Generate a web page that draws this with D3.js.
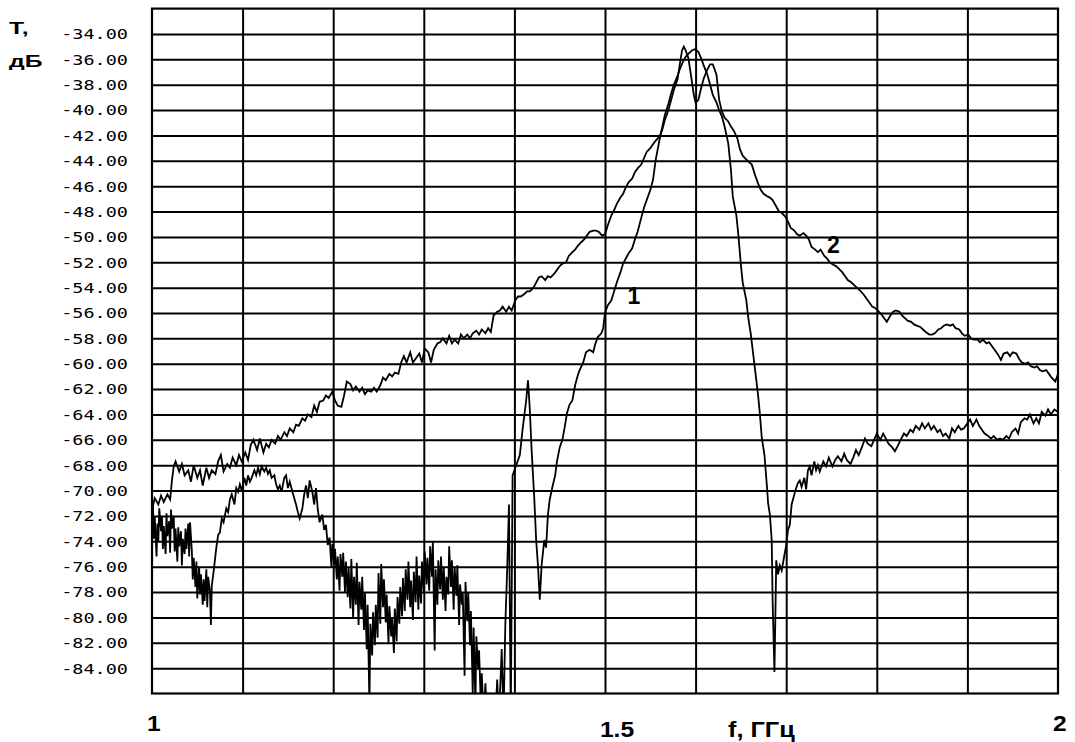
<!DOCTYPE html>
<html>
<head>
<meta charset="utf-8">
<script src="https://cdn.jsdelivr.net/npm/d3@7"></script>
<style>
  html, body { margin: 0; padding: 0; background: #fff; }
  svg { display: block; }
</style>
</head>
<body>
<svg id="chart" width="1075" height="742"></svg>
<script>
// Transmission T (dB) versus frequency f (GHz) for two filters.
// Each point is [frequency in GHz, T in dB].
const curve1 = [
[1.000,-74.5],[1.001,-71.0],[1.002,-73.8],[1.003,-72.0],[1.005,-75.2],[1.006,-72.6],[1.007,-74.0],[1.008,-71.4],[1.010,-73.2],[1.011,-72.0],
[1.012,-74.6],[1.013,-72.8],[1.015,-75.0],[1.016,-71.8],[1.017,-73.6],[1.019,-72.4],[1.020,-74.9],[1.021,-71.5],[1.022,-73.0],[1.024,-72.0],
[1.025,-74.8],[1.026,-73.0],[1.028,-75.6],[1.029,-72.9],[1.030,-74.4],[1.032,-73.2],[1.033,-75.9],[1.034,-73.8],[1.036,-75.0],[1.037,-73.0],
[1.038,-74.6],[1.040,-72.6],[1.041,-75.2],[1.042,-72.5],[1.044,-74.8],[1.045,-77.0],[1.046,-75.3],[1.048,-77.6],[1.049,-75.6],[1.050,-78.5],
[1.052,-76.0],[1.053,-78.2],[1.054,-76.6],[1.056,-79.0],[1.057,-77.0],[1.058,-78.7],[1.060,-76.2],[1.061,-79.2],[1.062,-76.8],[1.064,-78.0],
[1.065,-80.6],[1.066,-77.5],[1.068,-76.4],[1.071,-74.5],[1.073,-73.5],[1.075,-73.3],[1.077,-72.2],[1.079,-72.5],[1.082,-71.4],[1.084,-71.7],
[1.086,-70.7],[1.088,-70.3],[1.091,-71.1],[1.093,-69.8],[1.095,-70.1],[1.097,-69.5],[1.099,-70.0],[1.102,-69.0],[1.104,-69.6],[1.106,-68.8],
[1.108,-69.3],[1.110,-69.0],[1.113,-68.4],[1.115,-68.8],[1.117,-68.2],[1.119,-68.7],[1.121,-68.1],[1.124,-68.5],[1.126,-68.2],[1.128,-68.7],
[1.130,-68.4],[1.132,-69.0],[1.135,-68.8],[1.137,-69.5],[1.139,-69.9],[1.141,-69.6],[1.143,-70.1],[1.146,-69.0],[1.148,-68.8],[1.150,-69.8],
[1.152,-69.3],[1.155,-70.1],[1.157,-70.6],[1.159,-71.1],[1.161,-71.7],[1.163,-72.2],[1.166,-71.4],[1.168,-70.3],[1.170,-69.6],[1.172,-70.6],
[1.174,-69.2],[1.177,-70.1],[1.179,-71.1],[1.181,-69.8],[1.183,-71.5],[1.185,-72.5],[1.188,-71.9],[1.190,-73.1],[1.192,-72.7],[1.194,-74.3],
[1.196,-73.7],[1.198,-76.0],[1.199,-74.2],[1.201,-75.8],[1.202,-74.6],[1.204,-77.0],[1.205,-75.2],[1.207,-77.9],[1.208,-75.0],[1.210,-76.8],
[1.211,-74.9],[1.213,-78.0],[1.214,-75.6],[1.216,-78.4],[1.217,-76.1],[1.219,-79.3],[1.220,-75.4],[1.222,-80.1],[1.223,-76.8],[1.225,-79.0],
[1.226,-75.7],[1.228,-80.6],[1.229,-77.2],[1.231,-79.4],[1.232,-76.8],[1.234,-81.0],[1.235,-78.0],[1.237,-82.5],[1.238,-79.0],[1.240,-87.0],
[1.241,-80.5],[1.243,-83.0],[1.244,-79.6],[1.246,-82.2],[1.247,-79.0],[1.249,-81.6],[1.250,-76.5],[1.252,-80.5],[1.253,-75.8],[1.255,-79.2],
[1.256,-77.0],[1.258,-80.4],[1.259,-78.2],[1.261,-82.0],[1.262,-79.1],[1.264,-81.5],[1.265,-80.0],[1.267,-82.8],[1.268,-79.3],[1.270,-81.9],
[1.271,-78.4],[1.273,-80.5],[1.274,-77.6],[1.276,-79.9],[1.277,-76.9],[1.279,-79.5],[1.280,-76.2],[1.282,-78.6],[1.283,-75.6],[1.285,-79.2],
[1.286,-77.1],[1.288,-80.2],[1.289,-76.4],[1.291,-78.8],[1.292,-75.2],[1.294,-79.4],[1.295,-76.7],[1.297,-78.9],[1.298,-75.6],[1.300,-78.0],
[1.301,-74.8],[1.303,-77.4],[1.304,-75.3],[1.306,-77.9],[1.307,-74.4],[1.309,-76.8],[1.310,-74.0],[1.312,-82.6],[1.313,-76.2],[1.315,-79.0],
[1.316,-75.5],[1.318,-77.8],[1.319,-75.2],[1.321,-78.6],[1.322,-76.0],[1.324,-79.5],[1.325,-76.8],[1.327,-78.2],[1.328,-74.4],[1.330,-77.6],
[1.331,-75.5],[1.333,-79.4],[1.334,-76.0],[1.336,-78.3],[1.337,-75.9],[1.339,-80.6],[1.340,-77.4],[1.342,-79.0],[1.343,-78.0],[1.345,-84.6],
[1.346,-77.2],[1.348,-80.3],[1.349,-78.0],[1.351,-82.2],[1.352,-79.5],[1.354,-86.0],[1.355,-80.8],[1.357,-87.0],[1.358,-81.5],[1.360,-84.0],
[1.361,-82.6],[1.363,-87.0],[1.364,-84.4],[1.366,-88.0],[1.368,-85.2],[1.370,-88.0],[1.375,-88.0],[1.379,-88.0],[1.381,-84.9],[1.383,-88.0],
[1.386,-82.5],[1.388,-88.0],[1.390,-80.5],[1.392,-76.3],[1.394,-71.1],[1.396,-88.0],[1.398,-68.8],
[1.402,-68.0],[1.406,-67.2],[1.409,-65.2],[1.413,-62.9],[1.415,-61.3],[1.417,-63.6],[1.419,-66.8],[1.422,-70.7],[1.424,-73.9],[1.426,-75.9],
[1.428,-78.6],[1.430,-75.9],[1.433,-73.9],[1.435,-74.5],[1.437,-71.9],[1.439,-70.7],[1.442,-69.7],[1.445,-68.8],[1.447,-67.7],[1.450,-66.6],
[1.453,-66.0],[1.456,-64.8],[1.458,-63.9],[1.461,-63.2],[1.464,-62.9],[1.467,-61.7],[1.470,-60.9],[1.472,-60.5],[1.476,-59.9],[1.479,-59.1],
[1.483,-58.9],[1.487,-59.1],[1.489,-58.5],[1.492,-57.9],[1.496,-57.6],[1.498,-57.2],[1.500,-56.0],[1.503,-55.4],[1.507,-55.0],[1.510,-54.3],
[1.513,-53.6],[1.517,-52.8],[1.520,-52.1],[1.523,-51.7],[1.526,-51.3],[1.530,-50.9],[1.533,-50.2],[1.536,-49.6],[1.540,-48.5],[1.543,-47.7],
[1.546,-47.1],[1.550,-46.3],[1.553,-45.5],[1.556,-43.9],[1.560,-42.4],[1.563,-41.4],[1.566,-40.4],[1.570,-39.5],[1.573,-38.7],[1.576,-38.0],
[1.580,-37.3],[1.583,-36.7],[1.586,-36.2],[1.589,-35.8],[1.593,-35.5],[1.596,-35.3],[1.599,-35.2],[1.603,-35.4],[1.606,-35.9],[1.609,-36.5],
[1.613,-37.2],[1.616,-38.0],[1.619,-38.8],[1.623,-39.4],[1.626,-40.0],[1.629,-40.5],[1.632,-41.3],[1.636,-42.6],[1.639,-44.7],[1.641,-46.8],
[1.645,-48.3],[1.647,-49.7],[1.650,-52.2],[1.652,-53.6],[1.656,-55.0],[1.658,-56.3],[1.661,-57.7],[1.663,-58.9],[1.667,-61.3],[1.669,-62.5],
[1.671,-64.0],[1.673,-65.8],[1.676,-67.2],[1.677,-68.1],[1.679,-69.9],[1.680,-71.0],[1.682,-71.9],[1.684,-73.9],[1.685,-78.6],[1.687,-84.3],
[1.688,-80.2],[1.689,-75.5],[1.691,-76.6],[1.693,-75.9],[1.695,-76.3],[1.698,-75.1],[1.700,-74.3],[1.702,-73.1],[1.704,-72.7],[1.706,-71.1],
[1.709,-70.3],[1.711,-69.8],[1.713,-69.4],[1.715,-69.2],[1.717,-69.7],[1.720,-69.0],[1.722,-69.9],[1.724,-68.4],[1.726,-68.1],[1.728,-68.8],
[1.731,-67.7],[1.733,-68.4],[1.735,-68.0],[1.737,-68.5],[1.741,-67.7],[1.744,-68.1],[1.747,-67.4],[1.751,-68.1],[1.754,-67.6],[1.757,-67.3],
[1.761,-67.7],[1.764,-67.1],[1.767,-67.6],[1.771,-67.9],[1.774,-67.4],[1.777,-66.8],[1.780,-67.2],[1.784,-66.5],[1.787,-65.9],[1.790,-66.3],
[1.794,-66.5],[1.797,-66.0],[1.800,-65.5],[1.804,-66.0],[1.807,-65.5],[1.810,-65.9],[1.813,-66.3],[1.817,-66.6],[1.820,-66.9],[1.823,-66.5],
[1.827,-65.9],[1.830,-65.5],[1.833,-65.7],[1.837,-65.2],[1.840,-65.4],[1.843,-64.9],[1.847,-65.2],[1.850,-64.7],[1.853,-65.1],[1.857,-64.7],
[1.860,-65.2],[1.863,-64.9],[1.867,-65.4],[1.870,-65.2],[1.873,-65.7],[1.876,-65.5],[1.880,-65.9],[1.883,-65.1],[1.886,-65.4],[1.890,-64.9],
[1.893,-65.2],[1.896,-65.1],[1.900,-64.7],[1.903,-64.4],[1.906,-64.9],[1.910,-64.4],[1.913,-64.9],[1.916,-65.2],[1.919,-65.5],[1.923,-65.7],
[1.926,-65.9],[1.929,-65.7],[1.933,-66.0],[1.936,-65.9],[1.939,-66.0],[1.943,-65.7],[1.946,-65.9],[1.949,-65.4],[1.953,-65.1],[1.956,-65.5],
[1.959,-64.6],[1.963,-64.3],[1.966,-64.4],[1.969,-64.0],[1.973,-64.7],[1.976,-64.3],[1.979,-64.7],[1.982,-63.8],[1.986,-64.1],[1.989,-63.6],
[1.992,-64.0],[1.996,-63.6],[2.000,-63.8]
];

const curve2 = [
[1.000,-71.5],[1.003,-70.6],[1.007,-71.1],[1.010,-70.4],[1.013,-70.9],[1.017,-70.3],[1.020,-70.7],[1.022,-69.2],[1.024,-68.1],[1.026,-67.7],
[1.030,-68.5],[1.033,-67.9],[1.036,-68.8],[1.040,-68.4],[1.043,-69.3],[1.046,-68.0],[1.050,-69.0],[1.053,-68.4],[1.056,-69.6],[1.060,-68.2],
[1.063,-69.0],[1.066,-68.4],[1.070,-68.7],[1.073,-67.7],[1.076,-67.2],[1.079,-68.5],[1.083,-67.9],[1.086,-68.2],[1.089,-67.4],[1.093,-68.0],
[1.096,-67.2],[1.099,-67.7],[1.103,-67.0],[1.106,-67.6],[1.109,-66.4],[1.112,-66.0],[1.116,-66.8],[1.119,-65.9],[1.123,-67.0],[1.126,-66.3],
[1.129,-66.6],[1.132,-66.0],[1.136,-66.3],[1.139,-65.7],[1.142,-66.0],[1.146,-65.4],[1.149,-65.7],[1.152,-65.1],[1.156,-65.4],[1.159,-64.8],
[1.162,-64.9],[1.166,-64.3],[1.169,-64.5],[1.172,-64.0],[1.176,-64.2],[1.179,-63.3],[1.182,-63.8],[1.185,-63.0],[1.189,-62.9],[1.192,-62.5],
[1.195,-62.7],[1.199,-62.2],[1.202,-62.9],[1.205,-63.3],[1.209,-63.4],[1.212,-62.5],[1.215,-61.4],[1.219,-61.6],[1.222,-62.1],[1.225,-61.8],
[1.229,-62.2],[1.232,-61.9],[1.235,-62.4],[1.238,-62.1],[1.242,-62.2],[1.245,-61.9],[1.248,-62.2],[1.252,-61.7],[1.255,-61.1],[1.258,-61.3],
[1.262,-60.8],[1.265,-61.0],[1.268,-60.7],[1.272,-60.8],[1.275,-59.9],[1.278,-59.4],[1.281,-59.9],[1.285,-59.1],[1.288,-59.9],[1.291,-59.6],
[1.295,-59.2],[1.298,-59.9],[1.301,-58.8],[1.305,-59.1],[1.308,-59.9],[1.311,-58.9],[1.315,-58.4],[1.318,-58.3],[1.321,-58.0],[1.325,-58.4],
[1.328,-57.8],[1.331,-58.4],[1.334,-58.1],[1.338,-58.4],[1.341,-57.7],[1.344,-58.0],[1.348,-57.7],[1.351,-58.0],[1.354,-57.6],[1.358,-57.4],
[1.361,-57.7],[1.364,-57.3],[1.368,-57.6],[1.371,-57.2],[1.374,-57.5],[1.377,-56.2],[1.381,-55.9],[1.384,-55.8],[1.387,-55.5],[1.391,-55.9],
[1.394,-55.5],[1.397,-55.8],[1.401,-55.0],[1.404,-54.7],[1.407,-54.7],[1.411,-54.5],[1.414,-54.3],[1.417,-54.3],[1.421,-54.0],[1.424,-53.6],
[1.427,-53.2],[1.430,-53.1],[1.434,-53.4],[1.437,-53.1],[1.440,-53.2],[1.444,-52.9],[1.447,-52.6],[1.450,-52.3],[1.453,-52.1],[1.457,-52.0],
[1.460,-51.5],[1.464,-51.2],[1.467,-51.0],[1.470,-50.7],[1.474,-50.4],[1.477,-50.2],[1.480,-49.9],[1.483,-49.6],[1.487,-49.5],[1.490,-49.5],
[1.493,-49.6],[1.497,-49.9],[1.500,-49.8],[1.503,-49.1],[1.507,-48.3],[1.510,-47.9],[1.513,-47.4],[1.517,-46.9],[1.520,-46.6],[1.523,-46.1],
[1.526,-45.7],[1.530,-45.4],[1.533,-44.9],[1.536,-44.6],[1.540,-44.3],[1.543,-43.8],[1.546,-43.3],[1.550,-43.0],[1.553,-42.7],[1.556,-42.4],
[1.560,-42.1],[1.563,-41.6],[1.566,-40.8],[1.570,-40.0],[1.573,-39.2],[1.576,-38.4],[1.580,-37.6],[1.583,-36.2],[1.585,-35.3],[1.587,-35.0],
[1.589,-35.3],[1.592,-35.9],[1.595,-37.3],[1.598,-38.8],[1.600,-39.4],[1.603,-39.2],[1.606,-38.3],[1.609,-37.5],[1.613,-36.8],[1.616,-36.4],
[1.619,-36.4],[1.623,-37.2],[1.626,-39.2],[1.629,-40.1],[1.632,-40.6],[1.636,-40.9],[1.639,-41.3],[1.642,-41.6],[1.646,-42.2],[1.649,-43.1],
[1.652,-43.6],[1.656,-43.9],[1.659,-44.1],[1.662,-44.3],[1.666,-45.2],[1.669,-45.8],[1.672,-46.3],[1.675,-46.6],[1.679,-46.8],[1.682,-46.9],
[1.685,-47.1],[1.689,-47.6],[1.692,-48.0],[1.695,-48.1],[1.699,-48.4],[1.702,-48.8],[1.705,-49.3],[1.709,-49.5],[1.712,-49.8],[1.715,-49.9],
[1.719,-49.7],[1.722,-49.9],[1.725,-50.2],[1.728,-50.8],[1.732,-51.0],[1.735,-51.2],[1.738,-51.0],[1.742,-51.5],[1.745,-51.7],[1.748,-52.0],
[1.752,-52.2],[1.755,-52.3],[1.758,-52.5],[1.762,-52.8],[1.765,-53.1],[1.768,-53.4],[1.772,-53.6],[1.775,-53.8],[1.778,-54.0],[1.781,-54.2],
[1.785,-54.5],[1.788,-54.8],[1.791,-55.1],[1.795,-55.5],[1.798,-55.6],[1.801,-55.8],[1.805,-56.1],[1.808,-56.4],[1.811,-56.7],[1.815,-56.2],
[1.818,-55.9],[1.821,-55.8],[1.825,-55.9],[1.828,-56.2],[1.831,-56.4],[1.834,-56.6],[1.838,-56.7],[1.841,-56.9],[1.844,-57.0],[1.848,-57.1],
[1.851,-57.3],[1.854,-57.5],[1.858,-57.7],[1.861,-57.7],[1.864,-57.6],[1.868,-57.3],[1.871,-57.2],[1.874,-57.0],[1.877,-56.9],[1.881,-57.0],
[1.884,-56.9],[1.887,-57.2],[1.891,-57.3],[1.894,-57.6],[1.897,-57.8],[1.901,-57.7],[1.904,-58.0],[1.907,-58.1],[1.911,-58.1],[1.914,-58.3],
[1.917,-58.1],[1.921,-58.4],[1.924,-58.3],[1.927,-58.6],[1.930,-58.9],[1.934,-59.3],[1.937,-59.7],[1.940,-59.2],[1.944,-59.1],[1.947,-59.4],
[1.950,-59.1],[1.954,-59.2],[1.957,-59.6],[1.960,-59.9],[1.964,-60.0],[1.967,-59.9],[1.970,-60.2],[1.974,-60.3],[1.977,-60.2],[1.980,-60.5],
[1.983,-60.6],[1.987,-60.5],[1.990,-60.8],[1.993,-61.1],[1.997,-61.4],[2.000,-60.8]
];

// Axis ticks and labels
const yTicks = d3.range(-34, -85, -2);               // -34.00 ... -84.00
const xGrid = [1.1, 1.2, 1.3, 1.4, 1.5, 1.6, 1.7, 1.8, 1.9];
const xLabelTicks = [1, 1.5, 2];
const yTitle = ["Т,", "дБ"];
const xTitle = "f, ГГц";
const seriesNames = ["1", "2"];

// Layout
const plot = { left: 152, right: 1058, top: 8.6, bottom: 693.5 };
const svg = d3.select("#chart");

const x = d3.scaleLinear().domain([1, 2]).range([plot.left, plot.right]);
const y = d3.scaleLinear().domain([-86, -32]).range([plot.bottom, plot.top]);

const ink = "#000";
const boldFont = "'Liberation Sans', Arial, sans-serif";
const tickFont = "'DejaVu Sans Mono', monospace";

// Horizontal grid lines with the dB labels
const gy = svg.append("g")
  .attr("transform", `translate(${plot.left},0)`)
  .call(d3.axisLeft(y)
    .tickValues(yTicks)
    .tickSize(-(plot.right - plot.left))
    .tickFormat(d => d.toFixed(2)));
gy.select(".domain").remove();
gy.selectAll(".tick line").attr("stroke", ink).attr("stroke-width", 2);
gy.selectAll(".tick text")
  .attr("x", 0)
  .attr("dy", "0.36em")
  .attr("transform", "translate(-24,0) scale(1.37,1)")
  .attr("text-anchor", "end")
  .attr("fill", ink)
  .style("font-family", tickFont)
  .style("font-size", "13.5px");

// Vertical grid lines
const gx = svg.append("g")
  .attr("transform", `translate(0,${plot.bottom})`)
  .call(d3.axisBottom(x)
    .tickValues(xGrid)
    .tickSize(-(plot.bottom - plot.top))
    .tickFormat(""));
gx.select(".domain").remove();
gx.selectAll(".tick line").attr("stroke", ink).attr("stroke-width", 2);

// Frame
svg.append("rect")
  .attr("x", x(1)).attr("y", y(-32))
  .attr("width", x(2) - x(1)).attr("height", y(-86) - y(-32))
  .attr("fill", "none").attr("stroke", ink).attr("stroke-width", 2.2);

// Frequency labels under the frame
const gl = svg.append("g")
  .attr("transform", `translate(0,${plot.bottom})`)
  .call(d3.axisBottom(x)
    .tickValues(xLabelTicks)
    .tickSize(0)
    .tickFormat(d => String(d)));
gl.select(".domain").remove();
gl.selectAll(".tick text")
  .attr("x", -5)
  .attr("dy", null)
  .attr("y", d => (d === 1.5 ? 43.5 : 37.5))
  .attr("text-anchor", "start")
  .attr("transform", "scale(1.12,1)")
  .attr("fill", ink)
  .style("font-family", boldFont)
  .style("font-weight", "bold")
  .style("font-size", "22px");

svg.append("text")
  .attr("transform", `translate(728,${plot.bottom + 43.5}) scale(1.15,1)`)
  .attr("fill", ink)
  .style("font-family", boldFont)
  .style("font-weight", "bold")
  .style("font-size", "22px")
  .text(xTitle);

// Y title, two lines
svg.selectAll("text.ytitle")
  .data(yTitle)
  .join("text")
  .attr("class", "ytitle")
  .attr("transform", (d, i) => `translate(9,${i === 0 ? 33.5 : 67}) scale(1.55,1)`)
  .attr("fill", ink)
  .style("font-family", boldFont)
  .style("font-weight", "bold")
  .style("font-size", "16px")
  .text(d => d);

// Curves, clipped to the frame
svg.append("clipPath").attr("id", "plot-clip")
  .append("rect")
  .attr("x", x(1)).attr("y", y(-32))
  .attr("width", x(2) - x(1)).attr("height", y(-86) - y(-32));

const line = d3.line().x(d => x(d[0])).y(d => y(d[1]));

svg.append("g")
  .attr("clip-path", "url(#plot-clip)")
  .selectAll("path")
  .data([curve1, curve2])
  .join("path")
  .attr("d", line)
  .attr("fill", "none")
  .attr("stroke", ink)
  .attr("stroke-width", 1.8)
  .attr("stroke-linejoin", "miter");

// Curve numbers
const seriesLabelAt = [[1.532, -55.3], [1.752, -51.3]];
svg.selectAll("text.series")
  .data(seriesNames)
  .join("text")
  .attr("class", "series")
  .attr("x", (d, i) => x(seriesLabelAt[i][0]))
  .attr("y", (d, i) => y(seriesLabelAt[i][1]))
  .attr("text-anchor", "middle")
  .attr("fill", ink)
  .style("font-family", boldFont)
  .style("font-weight", "bold")
  .style("font-size", "23px")
  .text(d => d);
</script>
</body>
</html>
